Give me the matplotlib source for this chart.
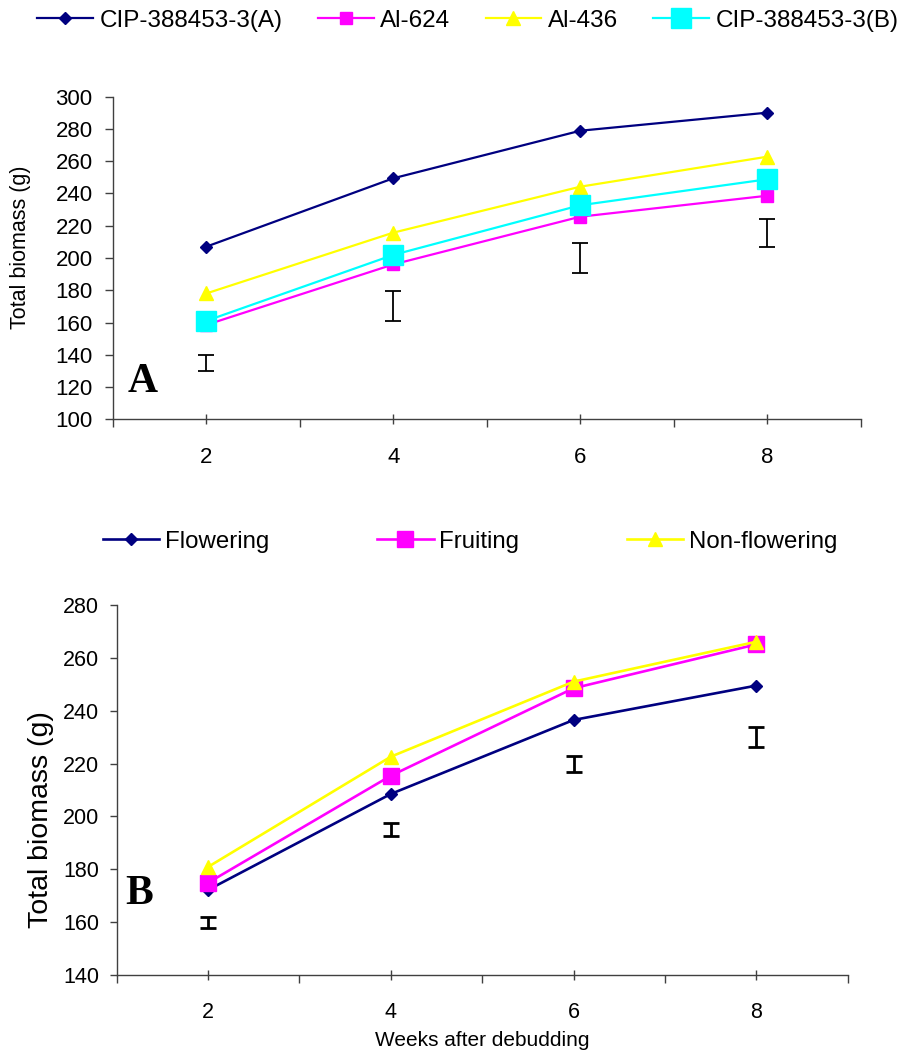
import matplotlib
matplotlib.use("Agg")
import matplotlib.pyplot as plt
from matplotlib.ticker import FixedLocator, NullFormatter

plt.rcParams['font.family'] = ['Liberation Sans', 'DejaVu Sans']

# ---------------- data ----------------
weeks = [2, 4, 6, 8]
week_labels = ["2", "4", "6", "8"]

# Panel A (genotypes)
cip_a = [207.0, 249.4, 278.9, 290.1]
al_624 = [158.5, 196.0, 225.6, 238.6]
al_436 = [178.0, 215.7, 244.2, 262.8]
cip_b = [161.0, 201.9, 232.7, 248.8]
lsd_a_center = [135.0, 170.4, 200.2, 215.7]
lsd_a_half = [5.0, 9.3, 9.3, 8.7]

# Panel B (plant status)
flowering = [172.2, 208.5, 236.5, 249.5]
fruiting = [174.9, 215.4, 248.5, 265.1]
non_flowering = [180.9, 222.6, 251.0, 266.1]
lsd_b_center = [160.0, 195.0, 220.0, 230.0]
lsd_b_half = [2.1, 2.4, 3.0, 3.7]

NAVY = '#000080'
MAG = '#FF00FF'
YEL = '#FFFF00'
CYAN = '#00FFFF'
AXC = '#404040'

W, H = 898, 1055
fig = plt.figure(figsize=(W / 100, H / 100), dpi=100)


def style_axes(ax, ylim, yticks, tick_fs, ylen, ypad, xpad, xmaj_len, xmin_len):
    ax.set_xlim(1, 9)
    ax.set_ylim(*ylim)
    for s in ['top', 'right']:
        ax.spines[s].set_visible(False)
    for s in ['left', 'bottom']:
        ax.spines[s].set_color(AXC)
        ax.spines[s].set_linewidth(1.0)
    ax.set_yticks(yticks)
    ax.tick_params(axis='y', direction='out', length=ylen, width=1.0,
                   color=AXC, labelsize=tick_fs, pad=ypad)
    ax.set_xticks(weeks)
    ax.set_xticklabels(week_labels)
    ax.tick_params(axis='x', which='major', direction='inout', length=xmaj_len,
                   width=1.0, color=AXC, labelsize=tick_fs, pad=xpad)
    ax.xaxis.set_minor_locator(FixedLocator([1, 3, 5, 7, 9]))
    ax.xaxis.set_minor_formatter(NullFormatter())
    ax.tick_params(axis='x', which='minor', direction='out', length=xmin_len,
                   width=1.0, color=AXC)


# ---------------- panel A ----------------
axA = fig.add_axes([112.7 / W, 1 - 419.3 / H, 748.0 / W, 322.6 / H])
lA1, = axA.plot(weeks, cip_a, color=NAVY, lw=1.6, marker='D', ms=6.6,
                mfc=NAVY, mec=NAVY, label='CIP-388453-3(A)')
lA2, = axA.plot(weeks, al_624, color=MAG, lw=1.6, marker='s', ms=9,
                mfc=MAG, mec=MAG, label='Al-624')
lA3, = axA.plot(weeks, al_436, color=YEL, lw=1.6, marker='^', ms=9.4,
                mfc=YEL, mec=YEL, label='Al-436')
lA4, = axA.plot(weeks, cip_b, color=CYAN, lw=1.6, marker='s', ms=14.5,
                mfc=CYAN, mec=CYAN, label='CIP-388453-3(B)')
axA.errorbar(weeks, lsd_a_center, yerr=lsd_a_half, fmt='none', ecolor='black',
             elinewidth=1.3, capsize=5.8, capthick=1.3)
style_axes(axA, (100, 300), list(range(100, 301, 20)), 16, 6.0, 8.4, 16.0, 7.2, 5.8)
axA.text(1.319, 116.9, 'A', family=['Liberation Serif', 'DejaVu Serif'],
         fontweight='bold', fontsize=30, ha='center', va='baseline')
fig.text(21 / W, 1 - 247.5 / H, 'Total biomass (g)', rotation=90,
         ha='center', va='center', fontsize=15.5)

fig.legend(handles=[lA1, lA2, lA3, lA4], loc='center left',
           bbox_to_anchor=(37 / W, 1 - 20.7 / H), ncol=4, frameon=False,
           fontsize=17.5, handlelength=2.3, handletextpad=0.27,
           columnspacing=1.45, borderpad=0, borderaxespad=0, numpoints=1)

# ---------------- panel B ----------------
axB = fig.add_axes([116.7 / W, 1 - 975.0 / H, 731.0 / W, 370.0 / H])
lB1, = axB.plot(weeks, flowering, color=NAVY, lw=1.9, marker='D', ms=6.5,
                mfc=NAVY, mec=NAVY, label='Flowering')
lB2, = axB.plot(weeks, fruiting, color=MAG, lw=1.9, marker='s', ms=11,
                mfc=MAG, mec=MAG, label='Fruiting')
lB3, = axB.plot(weeks, non_flowering, color=YEL, lw=1.9, marker='^', ms=10,
                mfc=YEL, mec=YEL, label='Non-flowering')
axB.errorbar(weeks, lsd_b_center, yerr=lsd_b_half, fmt='none', ecolor='black',
             elinewidth=2.0, capsize=5.5, capthick=2.0)
style_axes(axB, (140, 280), list(range(140, 281, 20)), 15.5, 5.4, 7.2, 15.2, 7.9, 5.8)
axB.text(1.249, 166.9, 'B', family=['Liberation Serif', 'DejaVu Serif'],
         fontweight='bold', fontsize=30, ha='center', va='baseline')
fig.text(41 / W, 1 - 820 / H, 'Total biomass (g)', rotation=90,
         ha='center', va='center', fontsize=20.5)
fig.text(482 / W, 1 - 1046 / H, 'Weeks after debudding', ha='center',
         va='baseline', fontsize=15)

fig.legend(handles=[lB1, lB2, lB3], loc='center left',
           bbox_to_anchor=(103 / W, 1 - 541.7 / H), ncol=3, frameon=False,
           fontsize=17.3, handlelength=2.35, handletextpad=0.22,
           columnspacing=4.5, borderpad=0, borderaxespad=0, numpoints=1)

fig.savefig('out.png', dpi=100)
